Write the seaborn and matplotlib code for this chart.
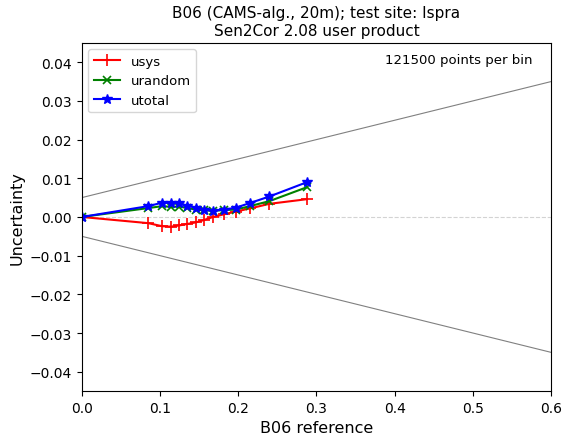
import matplotlib
matplotlib.use("Agg")
import matplotlib.pyplot as plt
import seaborn as sns
import numpy as np
import pandas as pd

x_ref = [0.0, 0.085, 0.103, 0.114, 0.1245, 0.135, 0.146, 0.156, 0.168, 0.182, 0.197, 0.215, 0.240, 0.288]
usys = [0.0, -0.0016, -0.0024, -0.0025, -0.0022, -0.0018, -0.0014, -0.0008, 0.0, 0.0007, 0.0014, 0.0022, 0.0034, 0.0046]
urandom = [0.0, 0.0023, 0.0028, 0.0026, 0.0027, 0.0023, 0.0019, 0.0017, 0.0016, 0.0018, 0.0019, 0.0028, 0.0041, 0.0077]
utotal = [0.0, 0.0028, 0.0037, 0.0036, 0.0035, 0.0029, 0.0024, 0.0019, 0.0016, 0.0019, 0.0024, 0.0036, 0.0053, 0.0090]

spec_x = [0.0, 0.6]
spec_upper = [0.005, 0.035]
spec_lower = [-0.005, -0.035]

fig = plt.figure(figsize=(5.64, 4.39), dpi=100)
ax = fig.add_axes([0.145, 0.107, 0.832, 0.793])

ax.axhline(0, color="lightgray", linestyle="--", linewidth=0.8)
sns.lineplot(x=spec_x, y=spec_upper, ax=ax, color="gray", linewidth=0.8)
sns.lineplot(x=spec_x, y=spec_lower, ax=ax, color="gray", linewidth=0.8)

sns.lineplot(x=x_ref, y=usys, ax=ax, color="red", marker="+", markersize=8,
             markeredgecolor="red", markeredgewidth=1.2, label="usys", sort=False)
sns.lineplot(x=x_ref, y=urandom, ax=ax, color="green", marker="x", markersize=6,
             markeredgecolor="green", markeredgewidth=1.2, label="urandom", sort=False)
sns.lineplot(x=x_ref, y=utotal, ax=ax, color="blue", marker="*", markersize=7,
             markeredgecolor="blue", markeredgewidth=1.0, label="utotal", sort=False)

ax.set_xlim(0, 0.6)
ax.set_ylim(-0.045, 0.045)
ax.tick_params(labelsize=10)
ax.set_xlabel("B06 reference", fontsize=11.5)
ax.set_ylabel("Uncertainty", fontsize=11.5)
ax.set_title("B06 (CAMS-alg., 20m); test site: Ispra\nSen2Cor 2.08 user product", fontsize=11)
ax.text(0.96, 0.951, "121500 points per bin", transform=ax.transAxes, ha="right", va="center", fontsize=9.5)
ax.legend(loc="upper left", fontsize=9.5)

fig.savefig("out.png", dpi=100)
